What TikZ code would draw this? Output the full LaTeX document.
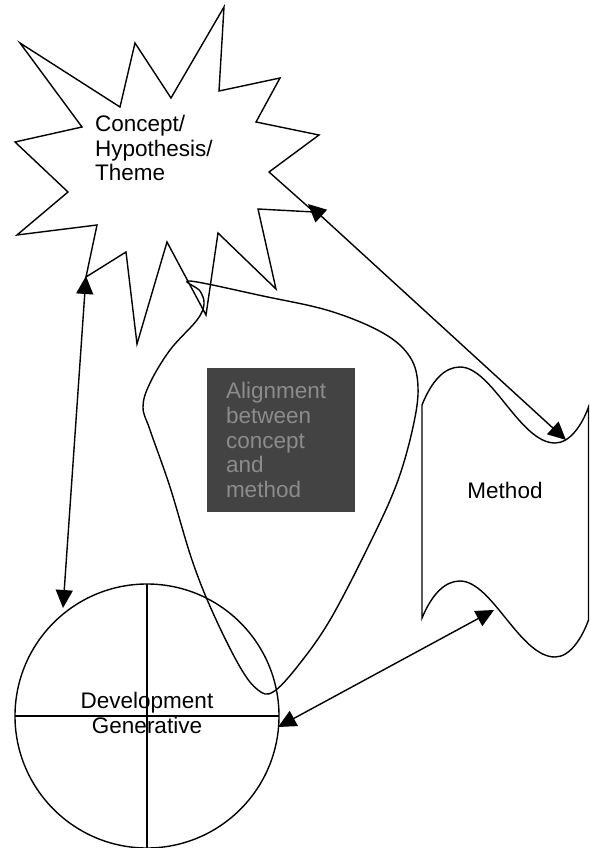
\documentclass[tikz,border=0pt]{standalone}
\usepackage{fontspec}
\setmainfont{Liberation Sans}
\usetikzlibrary{arrows.meta}
\definecolor{boxgray}{HTML}{434343}
\definecolor{boxtext}{HTML}{8C8C8C}
\tikzset{
	outline/.style={line width=1.4pt},
	link/.style={line width=1.4pt, {Triangle[length=18pt,width=17pt]}-{Triangle[length=18pt,width=17pt]}},
	bigtext/.style={font=\fontsize{22.5}{24.6}\selectfont, inner sep=0pt},
}

\begin{document}
\begin{tikzpicture}[x=1pt, y=-1pt]
		%%%%% START %%%%%
		\useasboundingbox (0, 0) rectangle (589, 848);
		
		% star
		\draw[outline] (20, 43) -- (120, 107) -- (135, 43) -- (171, 98) -- (224, 7) -- (219, 91) -- (280, 78) -- (256, 122) -- (319, 135) -- (269, 172) -- (314, 212) -- (258, 209) -- (276, 289) -- (218, 233) -- (206, 315) -- (167, 242) -- (137, 344) -- (126, 252) -- (86, 277) -- (97, 225) -- (17, 235) -- (68, 192) -- (15, 142) -- (82, 127) -- cycle;
		\node[bigtext, align=left, anchor=north west] (concept) at (95, 115) {Concept/\\Hypothesis/\\Theme};
		
		% alignment blob
		\draw[outline] plot[smooth cycle, tension=0.6] coordinates {(190, 281) (263, 296) (330, 311) (383, 333) (410, 357) (418, 387) (413, 427) (397, 483) (370, 543) (330, 620) (297, 667) (273, 692) (258, 690) (240, 667) (213, 613) (192, 560) (170, 487) (150, 430) (143, 407) (150, 383) (170, 350) (197, 320) (204, 304) (200, 291)};
		\node[bigtext, fill=boxgray, text=boxtext, align=left, text width=110pt, inner xsep=19pt, minimum width=148pt, minimum height=144pt] (align) at (281, 440) {Alignment\\between\\concept\\and\\method};
		
		% method
		\draw[outline] (422, 405) .. controls (432, 380) and (445, 367) .. (460, 367) .. controls (492, 367) and (520, 443) .. (555, 443) .. controls (570, 443) and (582, 425) .. (588.5, 407) -- (588.5, 620) .. controls (582, 638) and (570, 657) .. (555, 657) .. controls (520, 657) and (492, 581) .. (460, 581) .. controls (445, 581) and (432, 594) .. (422, 618) -- cycle;
		\node[bigtext] (method) at (505, 490) {Method};
		
		% development circle
		\draw[outline] (147, 716) circle[radius=132pt];
		\draw[outline] (15, 716) -- (279, 716);
		\draw[outline] (147, 584) -- (147, 849);
		\node[bigtext, align=center] (develop) at (147, 713) {Development\\Generative};
		
		\coordinate (star-sw) at (86, 276);
		\coordinate (dev-top) at (63, 608);
		\coordinate (star-e) at (308, 204);
		\coordinate (method-top) at (566, 440);
		\coordinate (dev-e) at (278, 727);
		\coordinate (method-bot) at (494, 610);
		
		\draw[link] (star-sw) -- (dev-top);
		\draw[link] (star-e) -- (method-top);
		\draw[link] (dev-e) -- (method-bot);
		%%%%% END %%%%%
\end{tikzpicture}
\end{document}
